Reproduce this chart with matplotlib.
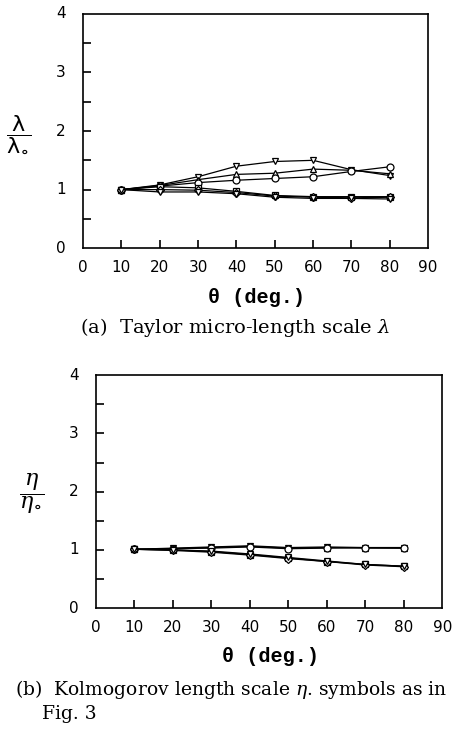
import matplotlib
matplotlib.use('Agg')
import matplotlib.pyplot as plt

theta = [10, 20, 30, 40, 50, 60, 70, 80]

# (a) Taylor micro-length scale, lambda / lambda_0
lam_down = [1.00, 1.08, 1.22, 1.40, 1.48, 1.50, 1.34, 1.24]
lam_up = [1.00, 1.07, 1.17, 1.26, 1.28, 1.35, 1.33, 1.27]
lam_circ = [1.00, 1.06, 1.12, 1.16, 1.19, 1.22, 1.31, 1.39]
lam_sq = [1.00, 1.05, 1.03, 0.97, 0.90, 0.88, 0.88, 0.88]
lam_dia = [1.00, 1.00, 0.99, 0.95, 0.89, 0.87, 0.86, 0.87]
lam_low = [1.00, 0.96, 0.96, 0.93, 0.87, 0.85, 0.85, 0.84]

# (b) Kolmogorov length scale, eta / eta_0
eta_down = [1.01, 1.03, 1.05, 1.07, 1.04, 1.05, 1.04, 1.04]
eta_up = [1.01, 1.02, 1.04, 1.06, 1.03, 1.04, 1.03, 1.03]
eta_circ = [1.01, 1.02, 1.03, 1.05, 1.02, 1.03, 1.04, 1.03]
eta_sq = [1.01, 1.00, 0.97, 0.92, 0.86, 0.80, 0.75, 0.72]
eta_dia = [1.01, 0.99, 0.96, 0.91, 0.85, 0.80, 0.74, 0.71]
eta_low = [1.01, 1.00, 0.98, 0.93, 0.87, 0.81, 0.75, 0.72]

markers = ['v', '^', 'o', 's', 'D', 'v']
xticks = [0, 10, 20, 30, 40, 50, 60, 70, 80, 90]
yticks = [0, 1, 2, 3, 4]

tick_font = 'DejaVu Sans'
text_font = 'DejaVu Serif'
label_font = 'Liberation Mono'

plt.rcParams['mathtext.fontset'] = 'custom'
plt.rcParams['mathtext.rm'] = 'DejaVu Sans'
plt.rcParams['mathtext.it'] = 'DejaVu Serif:italic'
plt.rcParams['mathtext.bf'] = 'DejaVu Sans:bold'


def draw_panel(ax, series, ylabel):
    for vals, m in zip(series, markers):
        ax.plot(theta, vals, color='black', linewidth=0.9, marker=m,
                markersize=5 if m != 'D' else 4, markerfacecolor='white',
                markeredgecolor='black', markeredgewidth=0.9)
    ax.set_xlim(0, 90)
    ax.set_ylim(0, 4)
    for s in ax.spines.values():
        s.set_linewidth(1.2)

    ax.set_xticks(theta)
    ax.set_yticks([0.5, 1.0, 1.5, 2.0, 2.5, 3.0, 3.5])
    ax.set_xticklabels([])
    ax.set_yticklabels([])
    ax.tick_params(direction='in', length=6, width=1.2, top=False, right=False)

    # tick labels drawn separately (0 and 90 sit at the axes ends)
    for xv in xticks:
        ax.text(xv, -0.33, str(xv), ha='center', va='center', fontsize=11,
                family=tick_font, transform=ax.transData, clip_on=False)
    for yv in yticks:
        ax.text(-0.05, yv, str(yv), ha='right', va='center', fontsize=11,
                family=tick_font, transform=ax.get_yaxis_transform(),
                clip_on=False)

    ax.text(-0.185, 0.49, ylabel, ha='center', va='center', fontsize=16,
            transform=ax.transAxes)
    ax.text(0.504, -0.21, '\u03b8 (deg.)', ha='center', va='center',
            fontsize=14.5, family=label_font, fontweight='bold',
            transform=ax.transAxes)


fig = plt.figure(figsize=(4.54, 7.30), dpi=100)

ax1 = fig.add_axes([0.183, 0.660, 0.760, 0.321])
draw_panel(ax1, [lam_down, lam_up, lam_circ, lam_sq, lam_dia, lam_low],
           r'$\dfrac{\mathrm{\lambda}}{\mathrm{\lambda}_{\mathbf{\circ}}}$')
fig.text(0.177, 0.552, r'(a)  Taylor micro-length scale $\lambda$',
         ha='left', va='center', fontsize=14, family=text_font)

ax2 = fig.add_axes([0.211, 0.167, 0.763, 0.319])
draw_panel(ax2, [eta_down, eta_up, eta_circ, eta_sq, eta_dia, eta_low],
           r'$\dfrac{\eta}{\eta_{\mathbf{\circ}}}$')
fig.text(0.033, 0.055, r'(b)  Kolmogorov length scale $\eta$. symbols as in',
         ha='left', va='center', fontsize=13.5, family=text_font)
fig.text(0.092, 0.022, 'Fig. 3', ha='left', va='center', fontsize=13.5,
         family=text_font)

fig.savefig('out.png', dpi=100)
plt.close(fig)
